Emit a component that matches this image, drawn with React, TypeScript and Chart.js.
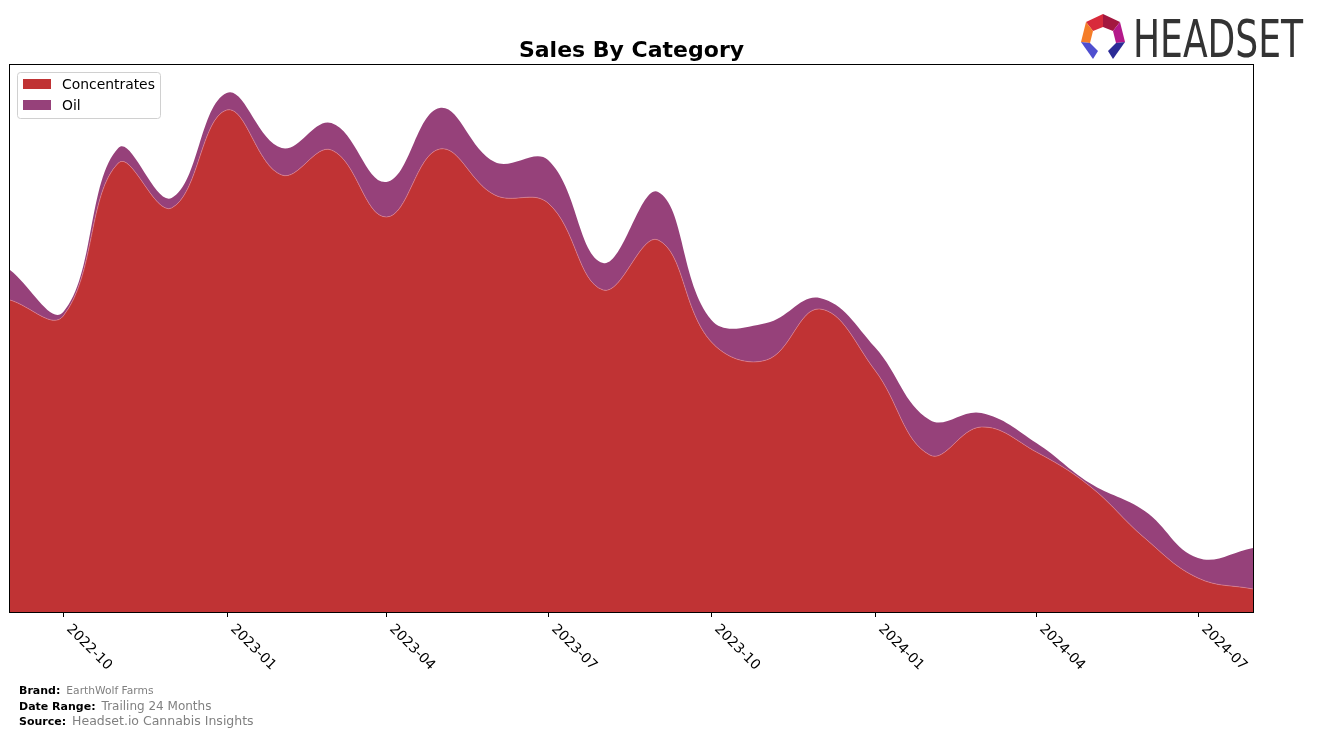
import React, { useEffect, useRef } from "react";
import { Chart, registerables } from "chart.js";

Chart.register(...registerables);

const months = [
  "2022-09", "2022-10", "2022-11", "2022-12", "2023-01", "2023-02", "2023-03", "2023-04",
  "2023-05", "2023-06", "2023-07", "2023-08", "2023-09", "2023-10", "2023-11", "2023-12",
  "2024-01", "2024-02", "2024-03", "2024-04", "2024-05", "2024-06", "2024-07", "2024-08",
];
const concentrates = [312, 296, 449, 404, 502, 437, 462, 395, 463, 417, 409, 322, 372, 270, 252, 303, 242, 157, 185, 160, 126, 74, 34, 23];
const oil = [30, 4, 15, 10, 17, 27, 27, 35, 41, 33, 43, 27, 48, 22, 37, 11, 23, 35, 14, 9, 3, 27, 20, 41];
const tickLabels = ["2022-10", "2023-01", "2023-04", "2023-07", "2023-10", "2024-01", "2024-04", "2024-07"];
const seriesNames = ["Concentrates", "Oil"];
const seriesColors = ["#c03334", "#96417a"];
const yMax = 547;

const toDay = (s: string) => Date.UTC(+s.slice(0, 4), +s.slice(5, 7) - 1, 1) / 86400000;

const FONT = "'DejaVu Sans', sans-serif";

const overlayPlugin = {
  id: "overlay",
  afterDraw(chart: any) {
    const ctx = chart.ctx as CanvasRenderingContext2D;
    const a = chart.chartArea;
    const xs = chart.scales.x;
    ctx.save();
    // frame
    ctx.strokeStyle = "#000";
    ctx.lineWidth = 1;
    ctx.strokeRect(Math.round(a.left) - 0.5, Math.round(a.top) - 0.5, Math.round(a.right - a.left) + 1, Math.round(a.bottom - a.top) + 1);
    // ticks + labels
    ctx.font = `13.9px ${FONT}`;
    ctx.fillStyle = "#000";
    ctx.textAlign = "left";
    ctx.textBaseline = "top";
    tickLabels.forEach((t) => {
      const px = Math.round(xs.getPixelForValue(toDay(t))) + 0.5;
      ctx.beginPath();
      ctx.moveTo(px, a.bottom);
      ctx.lineTo(px, a.bottom + 5);
      ctx.stroke();
      ctx.save();
      ctx.translate(px + 10, a.bottom + 10);
      ctx.rotate(Math.PI / 4);
      ctx.fillText(t, 0, 0);
      ctx.restore();
    });
    // title
    ctx.font = `bold 22px ${FONT}`;
    ctx.textAlign = "center";
    ctx.textBaseline = "alphabetic";
    ctx.fillText("Sales By Category", (a.left + a.right) / 2, 57);
    // legend
    const lx = 17, ly = 72, lw = 143, lh = 46;
    ctx.fillStyle = "rgba(255,255,255,0.85)";
    ctx.strokeStyle = "#d0d0d0";
    ctx.lineWidth = 1;
    ctx.beginPath();
    (ctx as any).roundRect(lx + 0.5, ly + 0.5, lw, lh, 3);
    ctx.fill();
    ctx.stroke();
    ctx.font = `13.9px ${FONT}`;
    ctx.textAlign = "left";
    ctx.textBaseline = "middle";
    chart.data.datasets.forEach((ds: any, i: number) => {
      const cy = 84 + i * 21;
      ctx.fillStyle = ds.backgroundColor;
      ctx.fillRect(23, cy - 5, 28, 10);
      ctx.fillStyle = "#000";
      ctx.fillText(ds.label, 62, cy + 1);
    });
    // footer
    const footer = [
      ["Brand:", "EarthWolf Farms", 691, 10.7],
      ["Date Range:", "Trailing 24 Months", 707, 12],
      ["Source:", "Headset.io Cannabis Insights", 722, 12.5],
    ] as [string, string, number, number][];
    footer.forEach(([k, v, y, fs]) => {
      ctx.font = `bold 11px ${FONT}`;
      ctx.fillStyle = "#000";
      ctx.fillText(k, 19, y);
      const w = ctx.measureText(k).width;
      ctx.font = `${fs}px ${FONT}`;
      ctx.fillStyle = "#808080";
      ctx.fillText(v, 19 + w + 6, y);
    });
    ctx.restore();
  },
};

function Logo() {
  return (
    <svg width={240} height={70} style={{ position: "absolute", left: 1070, top: 0 }} viewBox="1070 0 240 70">
      <polygon points="1103,14 1086,22 1093,31 1103,27" fill="#d82a3b" />
      <polygon points="1103,14 1120,22 1113,31 1103,27" fill="#a3173f" />
      <polygon points="1086,22 1081,42 1090,43 1093,31" fill="#f57d28" />
      <polygon points="1120,22 1125,42 1116,43 1113,31" fill="#b4198a" />
      <polygon points="1081,42 1090,43 1098,51 1093,59" fill="#4f4fcf" />
      <polygon points="1125,42 1116,43 1108,51 1113,59" fill="#2b2b96" />
      <text x={1133} y={57} fontFamily="'DejaVu Sans Condensed', 'DejaVu Sans', sans-serif" fontSize={51} fill="#333" textLength={170} lengthAdjust="spacingAndGlyphs">HEADSET</text>
    </svg>
  );
}

export default function App() {
  const ref = useRef<HTMLCanvasElement>(null);
  useEffect(() => {
    if (!ref.current) return;
    const vals = [concentrates, oil];
    const chart = new Chart(ref.current, {
      type: "line",
      data: {
        datasets: vals.map((arr, i) => ({
          label: seriesNames[i],
          data: arr.map((v, j) => ({ x: toDay(months[j]), y: v })),
          backgroundColor: seriesColors[i],
          borderColor: i === 0 ? "rgba(225,140,160,0.7)" : "rgba(0,0,0,0)",
          borderWidth: i === 0 ? 0.8 : 0,
          fill: i === 0 ? "origin" : "-1",
          pointRadius: 0,
          tension: 0.4,
          cubicInterpolationMode: "default" as const,
        })),
      },
      options: {
        animation: false,
        responsive: false,
        devicePixelRatio: 1,
        layout: { padding: { left: 10, top: 65, right: 64, bottom: 127 } },
        plugins: { legend: { display: false }, title: { display: false }, tooltip: { enabled: false } },
        scales: {
          x: { type: "linear", display: false, min: toDay(months[0]), max: toDay(months[months.length - 1]) },
          y: { display: false, stacked: true, min: 0, max: yMax },
        },
      },
      plugins: [overlayPlugin],
    });
    return () => chart.destroy();
  }, []);
  return (
    <div style={{ position: "absolute", left: 0, top: 0, width: 1317, height: 739, background: "#fff" }}>
      <canvas ref={ref} width={1317} height={739} style={{ width: 1317, height: 739, display: "block" }} />
      <Logo />
    </div>
  );
}
